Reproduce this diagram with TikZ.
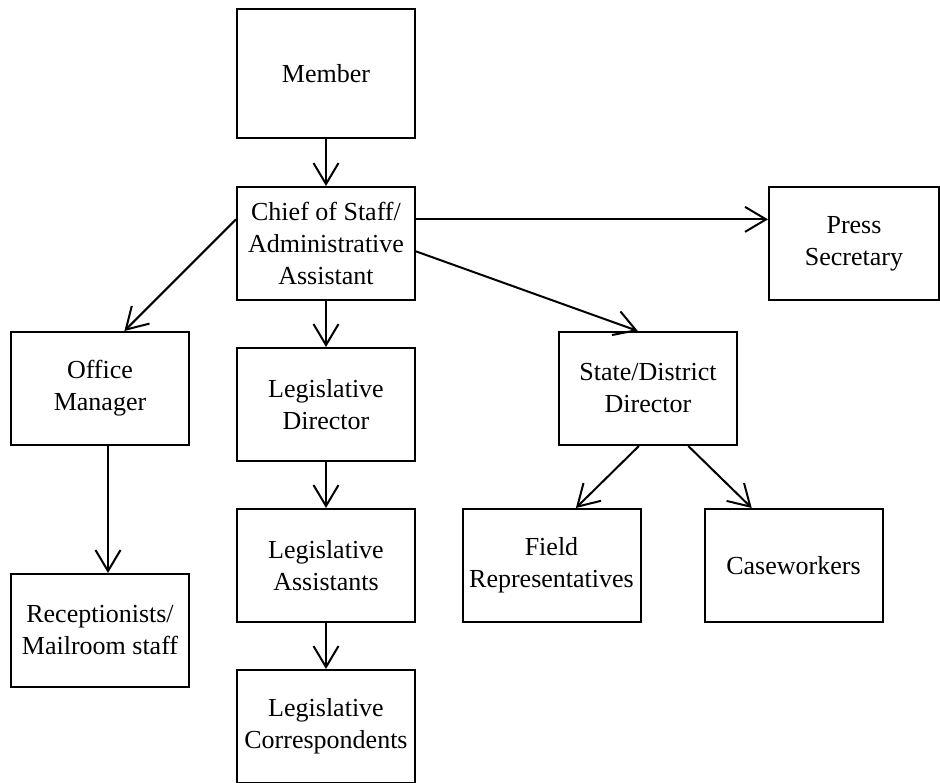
\documentclass[tikz,border=0pt]{standalone}
\usepackage{fontspec}
\setmainfont{Liberation Serif}
\usetikzlibrary{arrows.meta}

\tikzset{
    box/.style={draw, rectangle, line width=2pt, align=center,
        minimum width=178pt, minimum height=113pt, inner sep=2pt,
        font=\fontsize{26}{32}\selectfont},
    link/.style={line width=2pt,
        -{Straight Barb[length=21pt,width=25pt,line width=2pt]}}
}

\begin{document}
\begin{tikzpicture}[x=1pt,y=-1pt]
    \useasboundingbox (0,0) rectangle (940,783);
    \node [box, minimum height=129pt] (member) at (326,73.5) {Member};
    \node [box] (chief) at (326,243.5) {Chief of Staff/\\Administrative\\Assistant};
    \node [box, minimum width=170pt] (press) at (854,243.5) {Press\\Secretary};
    \node [box] (office) at (100,388.5) {Office\\Manager};
    \node [box] (legdir) at (326,404.5) {Legislative\\Director};
    \node [box] (state) at (648,388.5) {State/District\\Director};
    \node [box] (legasst) at (326,565.5) {Legislative\\Assistants};
    \node [box] (recep) at (100,630.5) {Receptionists/\\Mailroom staff};
    \node [box] (field) at (551.5,565.5) {Field\\Representatives};
    \node [box] (case) at (793.5,565.5) {Caseworkers};
    \node [box] (legcorr) at (326,726.5) {Legislative\\Correspondents};

    \draw [link] (member.south) -- (chief.north);
    \draw [link] (chief.165) -- (office.67);
    \draw [link] (chief.15) -- (chief.15 -| press.west);
    \draw [link] (chief.-5) -- (state.100);
    \draw [link] (chief.south) -- (legdir.north);
    \draw [link] (legdir.south) -- (legasst.north);
    \draw [link] (legasst.south) -- (legcorr.north);
    \draw [link] ([xshift=8pt]office.south) -- ([xshift=8pt]office.south |- recep.north);
    \draw [link] (state.-99) -- (field.67);
    \draw [link] (state.-55) -- (case.126);
\end{tikzpicture}
\end{document}
